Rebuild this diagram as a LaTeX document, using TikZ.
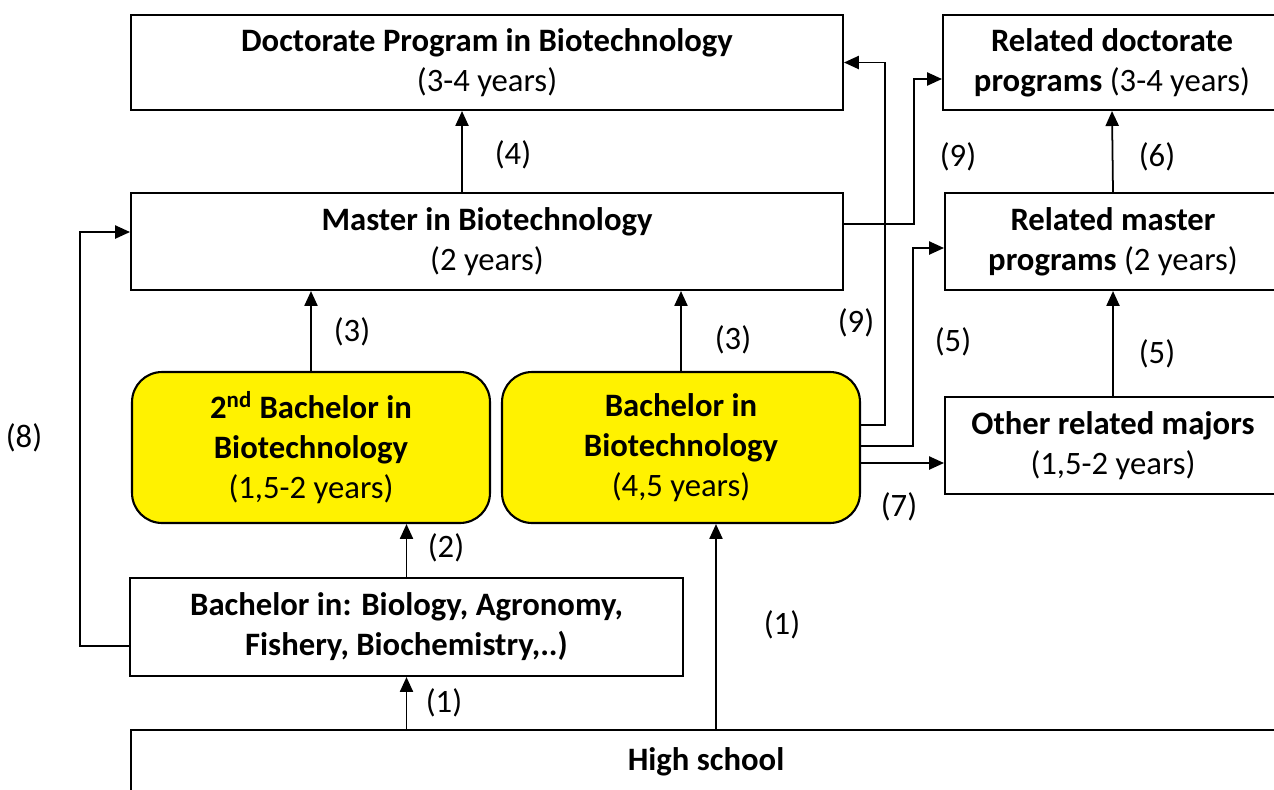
\documentclass[tikz,border=0pt]{standalone}
\usepackage{fontspec}
\setmainfont{Carlito}
\usetikzlibrary{arrows.meta,calc}
\tikzset{
box/.style={draw,line width=1.2pt,align=center,inner sep=0pt},
ybox/.style={box,fill=yellow,rounded corners=0.6cm},
arr/.style={line width=1pt,-{Triangle[length=8.5pt,width=7.5pt]}},
lab/.style={inner sep=0pt},
every node/.style={font=\fontsize{18.6}{22.7}\selectfont}
}
\begin{document}
\begin{tikzpicture}[x=0.02cm,y=-0.02cm]
\useasboundingbox (0,0) rectangle (1274,789);
    \node[box,minimum width=14.24cm,minimum height=1.9cm] (doc) at (487,62.5) {\textbf{Doctorate Program in Biotechnology}\\(3-4 years)};
    \node[box,minimum width=6.76cm,minimum height=1.9cm] (reldoc) at (1112,62.5) {\textbf{Related doctorate}\\\textbf{programs} (3-4 years)};
    \node[box,minimum width=14.24cm,minimum height=1.94cm] (master) at (487,241.5) {\textbf{Master in Biotechnology}\\(2 years)};
    \node[box,minimum width=6.72cm,minimum height=1.94cm] (relmaster) at (1113,241.5) {\textbf{Related master}\\\textbf{programs} (2 years)};
    \node[ybox,minimum width=7.16cm,minimum height=3.02cm] (bach2) at (311,447.5) {\textbf{2\textsuperscript{nd} Bachelor in}\\\textbf{Biotechnology}\\(1,5-2 years)};
    \node[ybox,minimum width=7.16cm,minimum height=3.02cm] (bach) at (681,447.5) {\textbf{Bachelor in}\\\textbf{Biotechnology}\\(4,5 years)};
    \node[box,minimum width=6.72cm,minimum height=1.94cm] (other) at (1113,445.5) {\textbf{Other related majors}\\(1,5-2 years)};
    \node[box,minimum width=11.06cm,minimum height=1.96cm] (bachin) at (406.5,627) {\textbf{Bachelor in: Biology, Agronomy,}\\\textbf{Fishery, Biochemistry,..)}};
    \node[box,minimum width=23.02cm,minimum height=1.28cm] (high) at (706,762) {\textbf{High school}};
    \coordinate (hsR) at ([xshift=0.7cm]bach.south);
    \coordinate (b7) at ([yshift=-0.31cm]bach.east);
    \draw[arr] ([xshift=-0.5cm]master.north) -- ([xshift=-0.5cm]doc.south);
    \draw[arr] (bach2.north) -- (bach2.north |- master.south);
    \draw[arr] (bach.north) -- (bach.north |- master.south);
    \draw[arr] (bachin.north) -- (bachin.north |- bach2.south);
    \draw[arr] (bachin.south |- high.north) -- (bachin.south);
    \draw[arr] (hsR |- high.north) -- (hsR);
    \draw[arr] ([yshift=-0.38cm]bachin.west) -- ++(-49,0) |- ([yshift=0.19cm]master.west);
    \draw[arr] ([yshift=0.45cm]bach.east) -- ++(24,0) |- (doc.east);
    \draw[arr] ([yshift=0.35cm]master.east) -- ++(70,0) |- ([yshift=-0.33cm]reldoc.west);
    \draw[arr] ([yshift=0.03cm]bach.east) -- ++(52,0) |- ([yshift=-0.13cm]relmaster.west);
    \draw[arr] (b7) -- (b7 -| other.west);
    \draw[arr] (other.north) -- (relmaster.south);
    \draw[arr] (relmaster.north) -- (reldoc.south);
    \node[lab] (l4) at (513,155) {(4)};
    \node[lab] (l3a) at (352,332) {(3)};
    \node[lab] (l3b) at (733,340) {(3)};
    \node[lab] (l2) at (446,548) {(2)};
    \node[lab] (l1a) at (444,703) {(1)};
    \node[lab] (l1b) at (782,625) {(1)};
    \node[lab] (l8) at (24,438) {(8)};
    \node[lab] (l9a) at (856,323) {(9)};
    \node[lab] (l9b) at (958,157) {(9)};
    \node[lab] (l5a) at (953,342) {(5)};
    \node[lab] (l7) at (899,507) {(7)};
    \node[lab] (l5b) at (1157,354) {(5)};
    \node[lab] (l6) at (1157,157) {(6)};
\end{tikzpicture}
\end{document}
